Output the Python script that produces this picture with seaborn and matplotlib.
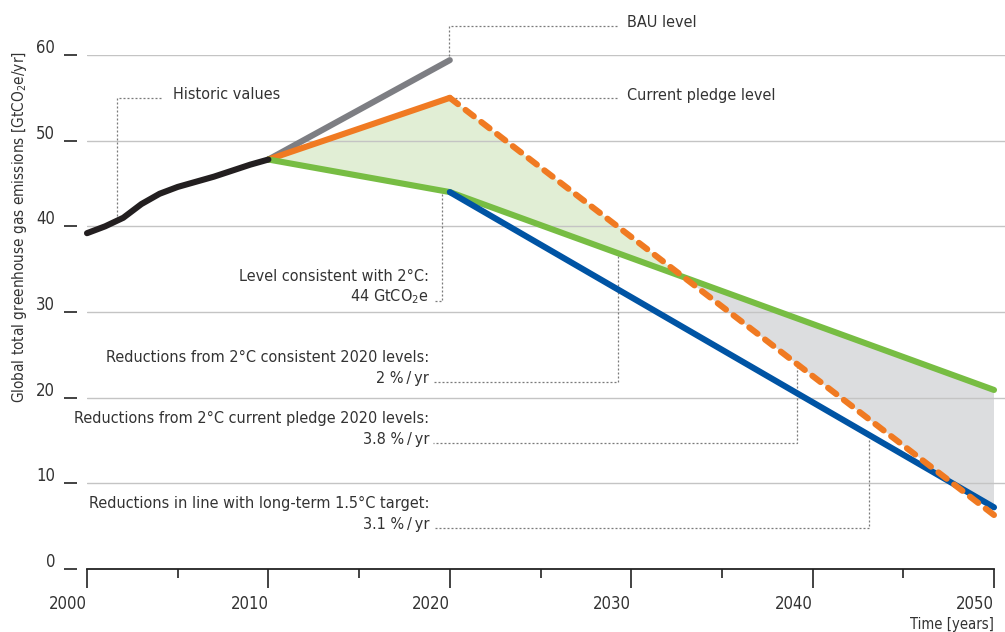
import numpy as np
import pandas as pd
import matplotlib
matplotlib.use("Agg")
import matplotlib.pyplot as plt
import seaborn as sns

# ---- data (GtCO2e per year) ----
hist_years = [2000, 2001, 2002, 2003, 2004, 2005, 2006, 2007, 2008, 2009, 2010]
hist_values = [39.2, 40.0, 41.0, 42.6, 43.8, 44.6, 45.2, 45.8, 46.5, 47.2, 47.8]

bau_years = [2010, 2020]
bau_values = [47.8, 59.4]

pledge_years = [2010, 2020]
pledge_values = [47.8, 55.0]

pledge_path_years = [2020, 2050]
pledge_path_values = [55.0, 6.3]

two_deg_years = [2010, 2020, 2050]
two_deg_values = [47.8, 44.0, 20.9]

one_five_years = [2020, 2050]
one_five_values = [44.0, 7.2]

x_ticks = [2000, 2010, 2020, 2030, 2040, 2050]
x_minor = [2005, 2015, 2025, 2035, 2045]
y_ticks = [0, 10, 20, 30, 40, 50, 60]

# ---- style ----
sns.set_style("white")
plt.rcParams["font.family"] = ["DejaVu Sans"]
plt.rcParams["font.stretch"] = "condensed"
plt.rcParams["mathtext.fontset"] = "custom"
plt.rcParams["mathtext.rm"] = "DejaVu Sans:stretch=condensed"
plt.rcParams["mathtext.it"] = "DejaVu Sans:stretch=condensed"
plt.rcParams["mathtext.bf"] = "DejaVu Sans:stretch=condensed:bold"

TXT = "#333333"
GRID = "#c4c4c4"
LEAD = "#7a7a7a"
C_HIST = "#231f20"
C_BAU = "#7d7e83"
C_PLEDGE = "#f07a22"
C_TWO = "#77bd43"
C_ONE = "#0054a4"
F_GREEN = "#e1eed5"
F_GREY = "#dcdddf"
FS = 11.6
LW = 4.4

W, H = 1005, 632
fig = plt.figure(figsize=(W / 100, H / 100), dpi=100)
px_per_year = 907 / 50
ax = fig.add_axes([87 / W, 63 / H, 918 / W, 514 / H])
ax.set_xlim(2000, 2000 + 918 / px_per_year)
ax.set_ylim(0, 60)

# horizontal grid
for v in y_ticks[1:]:
    ax.axhline(v, color=GRID, lw=1.0, zorder=1.5)

# shaded areas between scenario paths
t = np.linspace(2010, 2050, 1601)
pledge_all_x = pledge_years + pledge_path_years[1:]
pledge_all_y = pledge_values + pledge_path_values[1:]
p = np.interp(t, pledge_all_x, pledge_all_y)
g = np.interp(t, two_deg_years, two_deg_values)
b = np.interp(t, one_five_years, one_five_values)
ax.fill_between(t, g, p, where=p >= g, color=F_GREEN, lw=0, zorder=1, interpolate=True)
low = np.where(t >= 2020, np.maximum(p, b), p)
ax.fill_between(t, low, g, where=g >= p, color=F_GREY, lw=0, zorder=1, interpolate=True)

# scenario lines
def draw(xs, ys, color, **kw):
    df = pd.DataFrame({"year": xs, "value": ys})
    sns.lineplot(data=df, x="year", y="value", color=color, lw=LW, ax=ax,
                 solid_capstyle="round", clip_on=False, **kw)

draw(bau_years, bau_values, C_BAU, zorder=3)
draw(pledge_years, pledge_values, C_PLEDGE, zorder=4)
draw(two_deg_years, two_deg_values, C_TWO, zorder=4)
draw(one_five_years, one_five_values, C_ONE, zorder=5)
df_pp = pd.DataFrame({"year": pledge_path_years, "value": pledge_path_values})
sns.lineplot(data=df_pp, x="year", y="value", color=C_PLEDGE, lw=LW, ax=ax,
             dashes=False, zorder=6, clip_on=False)
ax.lines[-1].set_linestyle((0, (1.7, 1.55)))
ax.lines[-1].set_dash_capstyle("round")
draw(hist_years, hist_values, C_HIST, zorder=7)

# axes / ticks
for s in ["top", "right", "left"]:
    ax.spines[s].set_visible(False)
ax.spines["bottom"].set_bounds(2000, 2050)
ax.spines["bottom"].set_color("#222222")
ax.spines["bottom"].set_linewidth(1.3)
ax.set_xticks(x_ticks)
ax.set_xticks(x_minor, minor=True)
ax.tick_params(axis="x", which="major", bottom=True, length=13.5, width=1.2,
               color="#222222", direction="out", labelbottom=False)
ax.tick_params(axis="x", which="minor", bottom=True, length=6.5, width=1.2,
               color="#222222", direction="out")
ax.set_yticks(y_ticks)
ax.tick_params(axis="y", length=0, labelleft=False)
ax.set_xlabel("")
ax.set_ylabel("")

def px_x(px):
    return 2000 + (px - 87) / px_per_year

def px_y(py):
    return (569 - py) / (514 / 60)

for yr in x_ticks:
    ax.text(yr, px_y(609), str(yr), ha="right", va="baseline", fontsize=12,
            color=TXT, clip_on=False)

# y tick marks set apart from the plot, with labels
for v in y_ticks:
    ax.plot([px_x(64), px_x(77)], [v, v], color="#222222", lw=1.2, clip_on=False,
            solid_capstyle="butt")
    ax.text(px_x(55), v + px_y(569 - 2), str(v), ha="right", va="baseline",
            fontsize=12, color=TXT, clip_on=False)

fig.text(20 / W, 1 - 227 / H, "Global total greenhouse gas emissions [GtCO$_2$e/yr]",
         rotation=90, ha="center", va="center", fontsize=11, color=TXT)
fig.text(994 / W, 1 - 629 / H, "Time [years]", ha="right", va="baseline",
         fontsize=10.6, color=TXT)

# leader lines and labels
def lead(xs_px, ys_px):
    ax.plot([px_x(x) for x in xs_px], [px_y(y) for y in ys_px], color=LEAD, lw=0.9,
            ls=(0, (1.6, 1.6)), clip_on=False, zorder=2)

def label(x_px, y_px, s, ha="left"):
    ax.text(px_x(x_px), px_y(y_px), s, ha=ha, va="baseline", fontsize=FS,
            color=TXT, clip_on=False)

lead([117, 117, 162], [220, 98, 98])
label(173, 99, "Historic values")

lead([449, 449, 618], [60, 26, 26])
label(627, 27, "BAU level")

lead([455, 618], [98, 98])
label(627, 100, "Current pledge level")

lead([442, 442, 433], [194, 301, 301])
label(429, 281, "Level consistent with 2°C:", ha="right")
label(429, 301, "44 GtCO$_2$e", ha="right")

lead([618, 618, 433], [256, 382, 382])
label(429, 362, "Reductions from 2°C consistent 2020 levels:", ha="right")
label(429, 383, "2 %\u2009/\u2009yr", ha="right")

lead([797, 797, 433], [366, 443, 443])
label(429, 423, "Reductions from 2°C current pledge 2020 levels:", ha="right")
label(429, 444, "3.8 %\u2009/\u2009yr", ha="right")

lead([869, 869, 433], [440, 528, 528])
label(429, 508, "Reductions in line with long-term 1.5°C target:", ha="right")
label(429, 529, "3.1 %\u2009/\u2009yr", ha="right")

fig.savefig("out.png", dpi=100)
